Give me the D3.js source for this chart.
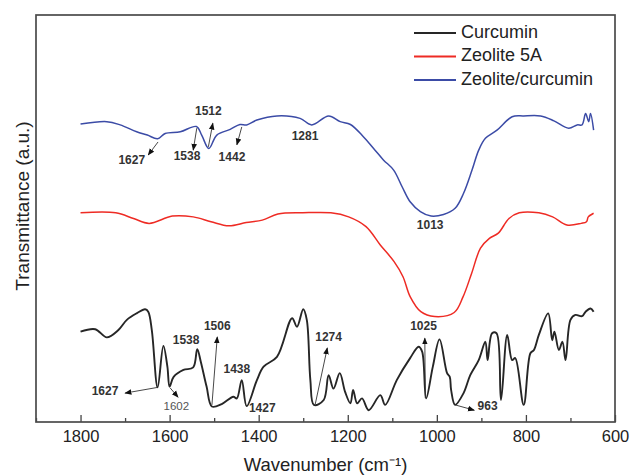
<!DOCTYPE html>
<meta charset="utf-8">
<script src="https://d3js.org/d3.v7.min.js"></script>
<style>
  body { margin: 0; background: #fff; }
  text { font-family: "Liberation Sans", Arial, sans-serif; }
</style>
<div id="chart"></div>
<script>

// wavenumber (cm-1) and transmittance (a.u.)
var blueWn = [1800,1741,1711,1674,1650,1627,1610,1576,1540,1528,1512,1494,1464,1442,1427,1404,1359,1307,1281,1243,1217,1194,1165,1142,1120,1097,1078,1060,1037,1013,985,959,940,921,906,891,865,831,805,767,737,704,685,674,666,659,655,648];
var blueT  = [73.2,73.8,73.0,71.3,70.5,69.6,70.9,71.3,72.6,70.5,67.2,70.5,71.9,73.1,73.0,74.2,75.2,74.6,73.0,75.2,73.8,73.1,70.1,67.2,64.4,61.9,57.8,54.1,51.7,50.6,51.0,52.5,56.2,61.9,66.8,69.7,71.7,75.0,75.2,75.2,74.0,72.2,73.0,73.0,75.8,73.8,75.8,71.7];

var redWn = [1800,1721,1681,1646,1594,1547,1507,1467,1428,1392,1357,1301,1238,1198,1159,1127,1096,1076,1060,1036,1005,961,941,922,902,882,862,838,815,771,740,708,676,664,660,648];
var redT  = [51.4,51.4,50.0,48.8,50.6,50.4,49.2,48.2,49.0,49.6,51.1,51.4,51.4,50.4,48.0,43.5,39.4,35.7,30.8,27.1,25.9,26.9,30.8,36.5,42.7,45.1,46.4,50.0,51.4,51.4,50.4,48.4,48.8,49.2,50.4,51.3];

var blackWn = [1800,1767,1741,1715,1696,1674,1655,1648,1640,1627,1614,1605,1600,1591,1569,1547,1538,1530,1517,1505,1483,1457,1449,1438,1427,1404,1389,1359,1325,1314,1300,1292,1284,1276,1254,1243,1232,1218,1206,1194,1188,1179,1168,1153,1127,1116,1090,1060,1041,1033,1024,1009,994,977,971,968,959,940,925,906,891,886,876,866,856,842,831,824,805,790,782,771,750,741,736,726,718,711,700,689,674,666,655,648];
var blackT  = [22.2,22.8,20.8,22.6,25.1,26.7,27.7,27.1,22.6,8.5,18.7,13.6,8.7,11.1,12.8,13.4,17.9,14.8,8.7,3.8,4.4,6.2,5.8,10.3,3.9,10.3,13.6,16.0,25.5,23.4,27.7,25.1,10.3,4.2,5.4,11.5,8.2,12.0,7.4,4.6,7.9,4.6,5.8,2.9,6.6,4.2,10.3,15.7,18.5,17.3,5.8,13.6,20.3,12.0,11.1,7.9,4.2,7.1,11.5,15.2,19.7,15.2,21.8,21.8,5.4,21.4,15.2,15.7,4.2,16.9,17.7,21.4,26.7,20.1,22.2,17.7,19.7,15.2,25.1,26.3,26.0,27.1,27.9,27.1];

var seriesNames = ["Curcumin", "Zeolite 5A", "Zeolite/curcumin"];
var seriesColors = ["#262626", "#ee2b24", "#3b4ba6"];

var xTicks = [1800, 1600, 1400, 1200, 1000, 800, 600];
var xMinorTicks = [1900, 1700, 1500, 1300, 1100, 900, 700];

// peak labels: text at (wn, t); optional arrow from (a1) to (a2)
var peakLabels = ["1627","1538","1512","1442","1281","1013","1627","1602","1538","1506","1438","1427","1274","1025","963"];
var peakWn     = [1685,1561,1513,1460,1296,1015,1745,1585,1563,1493,1449,1392,1243,1030,886];
var peakT      = [64.2,65.2,76.2,64.8,70.1,48.2,7.4,3.6,20.0,23.4,12.9,3.2,20.6,23.4,3.8];
var arrowFromWn = [1626,1539,1513,1438,null,null,1627,1599,null,1505,null,null,1273,1026,959];
var arrowFromT  = [68.8,72.2,67.6,72.5,null,null,8.5,8.4,null,4.2,null,null,4.4,5.9,4.2];
var arrowToWn   = [1648,1547,1503,1449,null,null,1700,1581,null,1493,null,null,1246,1027,916];
var arrowToT    = [65.6,66.8,73.4,68.1,null,null,7.1,6.1,null,20.9,null,null,18.2,20.6,2.9];

var W = 630, H = 476;
var margin = {top: 15, right: 15, bottom: 54, left: 36},
    width = W - margin.left - margin.right,
    height = H - margin.top - margin.bottom;

var svg = d3.select("#chart")
  .append("svg")
    .attr("width", W)
    .attr("height", H)
  .append("g")
    .attr("transform", "translate(" + margin.left + "," + margin.top + ")");

var defs = svg.append("defs");
defs.append("marker")
    .attr("id", "arrow")
    .attr("viewBox", "0 0 10 10")
    .attr("refX", 9).attr("refY", 5)
    .attr("markerWidth", 7).attr("markerHeight", 7)
    .attr("markerUnits", "userSpaceOnUse")
    .attr("orient", "auto")
  .append("path")
    .attr("d", "M0,1 L10,5 L0,9 Z")
    .attr("fill", "#111");

var x = d3.scaleLinear().domain([1900, 600]).range([0, width]);
var y = d3.scaleLinear().domain([0, 100]).range([height, 0]);

// minor ticks
svg.append("g")
  .attr("transform", "translate(0," + height + ")")
  .call(d3.axisBottom(x).tickValues(xMinorTicks).tickSize(-4).tickFormat(""))
  .call(function(g) { g.select(".domain").remove(); })
  .selectAll("line").attr("stroke", "#444").attr("stroke-width", 1.3);

// major ticks
var xAxis = svg.append("g")
  .attr("transform", "translate(0," + height + ")")
  .call(d3.axisBottom(x).tickValues(xTicks).tickSize(-7).tickPadding(8).tickFormat(d3.format("d")));
xAxis.select(".domain").remove();
xAxis.selectAll("line").attr("stroke", "#444").attr("stroke-width", 1.3);
xAxis.selectAll("text")
  .attr("font-size", 16.5)
  .attr("fill", "#222")
  .attr("font-family", "'Liberation Sans', Arial, sans-serif");

// frame
svg.append("rect")
  .attr("width", width).attr("height", height)
  .attr("fill", "none")
  .attr("stroke", "#4a4a4a")
  .attr("stroke-width", 1.7);

var line = d3.line()
  .x(function(d) { return x(d[0]); })
  .y(function(d) { return y(d[1]); })
  .curve(d3.curveCatmullRom.alpha(0.5));

var series = [
  {wn: blackWn, t: blackT, i: 0},
  {wn: redWn, t: redT, i: 1},
  {wn: blueWn, t: blueT, i: 2}
];

series.forEach(function(s) {
  var pts = s.wn.map(function(w, k) { return [w, s.t[k]]; });
  svg.append("path")
    .datum(pts)
    .attr("fill", "none")
    .attr("stroke", seriesColors[s.i])
    .attr("stroke-width", s.i == 0 ? 1.9 : 1.5)
    .attr("stroke-linejoin", "round")
    .attr("d", line);
});

// arrows
peakLabels.forEach(function(lbl, k) {
  if (arrowFromWn[k] == null) return;
  svg.append("line")
    .attr("x1", x(arrowFromWn[k])).attr("y1", y(arrowFromT[k]))
    .attr("x2", x(arrowToWn[k])).attr("y2", y(arrowToT[k]))
    .attr("stroke", "#333")
    .attr("stroke-width", 0.9)
    .attr("marker-end", "url(#arrow)");
});

// peak labels
svg.selectAll(".peak")
  .data(peakLabels)
  .enter()
  .append("text")
    .attr("class", "peak")
    .attr("x", function(d, k) { return x(peakWn[k]); })
    .attr("y", function(d, k) { return y(peakT[k]); })
    .attr("text-anchor", "middle")
    .attr("dominant-baseline", "middle")
    .attr("font-size", function(d, k) { return k == 7 ? 11.5 : 12; })
    .attr("font-weight", function(d, k) { return k == 7 ? "normal" : "bold"; })
    .attr("fill", function(d, k) { return k == 7 ? "#555" : "#333"; })
    .text(function(d) { return d; });

// legend
var legend = svg.append("g")
  .attr("transform", "translate(" + (width - 201) + ",18)");
seriesNames.forEach(function(name, i) {
  var row = legend.append("g").attr("transform", "translate(0," + (i * 23.5) + ")");
  row.append("line")
    .attr("x1", 0).attr("x2", 42)
    .attr("stroke", seriesColors[i])
    .attr("stroke-width", 2);
  row.append("text")
    .attr("x", 47)
    .attr("dominant-baseline", "middle")
    .attr("font-size", 18)
    .attr("fill", "#222")
    .text(name);
});

// axis titles
svg.append("text")
  .attr("x", width / 2)
  .attr("y", height + 49)
  .attr("text-anchor", "middle")
  .attr("font-size", 18.5)
  .attr("fill", "#222")
  .text("Wavenumber (cm\u207B\u00B9)");

svg.append("text")
  .attr("transform", "rotate(-90)")
  .attr("x", -(206 - margin.top))
  .attr("y", -7)
  .attr("text-anchor", "middle")
  .attr("font-size", 19)
  .attr("fill", "#222")
  .text("Transmittance (a.u.)");

</script>
